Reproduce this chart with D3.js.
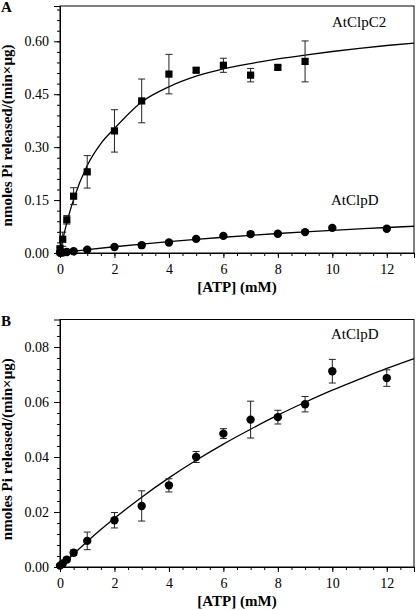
<!DOCTYPE html>
<html><head><meta charset="utf-8">
<script src="https://cdn.jsdelivr.net/npm/d3@7"></script>
<style>body{margin:0;background:#fff}svg{display:block}</style>
</head><body>
<svg id="c" width="416" height="610"></svg>
<script>
// Data
const c2X   = [0, 0.1, 0.25, 0.5, 1, 2, 3, 4, 5, 6, 7, 8, 9];
const c2Y   = [0.012, 0.039, 0.094, 0.161, 0.230, 0.346, 0.431, 0.507, 0.518, 0.532, 0.504, 0.526, 0.543];
const c2Err = [0.005, 0.02, 0.012, 0.024, 0.046, 0.06, 0.062, 0.056, 0.006, 0.02, 0.019, 0.006, 0.058];

const dX   = [0, 0.1, 0.25, 0.5, 1, 2, 3, 4, 5, 6, 7, 8, 9, 10, 12];
const dY   = [0.0005, 0.0013, 0.0027, 0.0052, 0.0095, 0.0170, 0.0222, 0.0297, 0.0400, 0.0485, 0.0536, 0.0545, 0.0592, 0.0712, 0.0687];
const dErr = [0.0004, 0.0006, 0.0008, 0.001, 0.0032, 0.0028, 0.0055, 0.0024, 0.002, 0.0018, 0.0067, 0.0025, 0.0028, 0.0043, 0.003];

// fitted curves (sampled from figure)
const fitC2X = [0, 0.1, 0.25, 0.5, 1, 1.5, 2, 3, 4, 5, 6, 7, 8, 9, 10, 11, 12, 13];
const fitC2Y = [0, 0.037, 0.086, 0.152, 0.248, 0.31, 0.353, 0.428, 0.471, 0.501, 0.522, 0.537, 0.550, 0.561, 0.571, 0.580, 0.588, 0.595];
const fitDX  = [0, 1, 2, 3, 4, 5, 6, 7, 8, 9, 10, 11, 12, 13];
const fitDY  = [0, 0.0093, 0.0177, 0.0254, 0.0324, 0.0388, 0.0447, 0.0501, 0.0552, 0.0599, 0.0643, 0.0683, 0.0722, 0.0758];

const xMajor = [0, 2, 4, 6, 8, 10, 12];
const yMajorA = [0, 0.15, 0.30, 0.45, 0.60];
const yMajorB = [0, 0.02, 0.04, 0.06, 0.08];

const FONT = '"Liberation Serif","Times New Roman",serif';
const svg = d3.select("#c");

function panel(opt) {
  const {top, bottom, yMax, yMajor, yMinorStep, letter, letterY} = opt;
  const left = 60, right = 414;
  const x = d3.scaleLinear().domain([0, 13]).range([left, right]);
  const y = d3.scaleLinear().domain([0, yMax]).range([bottom, top]);
  const g = svg.append("g");

  g.append("rect").attr("x", left).attr("y", top).attr("width", right - left).attr("height", bottom - top)
    .attr("fill", "none").attr("stroke", "#000").attr("stroke-width", 1);

  const xMinor = d3.range(0, 13.001, 0.5);
  g.append("g").attr("transform", `translate(0,${bottom})`)
    .call(d3.axisBottom(x).tickValues(xMinor).tickSize(3).tickFormat(""))
    .call(a => a.select(".domain").remove());
  g.append("g").attr("transform", `translate(0,${bottom})`)
    .call(d3.axisBottom(x).tickValues(xMajor).tickSize(5).tickPadding(6).tickFormat(d3.format("d")))
    .call(a => a.select(".domain").attr("stroke", "#000"))
    .call(a => a.selectAll("text").style("font-family", FONT).attr("font-size", 14).attr("fill", "#000"));

  const yMinor = d3.range(0, yMax + 1e-9, yMinorStep);
  g.append("g").attr("transform", `translate(${left},0)`)
    .call(d3.axisLeft(y).tickValues(yMinor).tickSize(3).tickFormat(""))
    .call(a => a.select(".domain").remove());
  g.append("g").attr("transform", `translate(${left},0)`)
    .call(d3.axisLeft(y).tickValues(yMajor).tickSize(6).tickPadding(5).tickFormat(d3.format(".2f")))
    .call(a => a.select(".domain").attr("stroke", "#000"))
    .call(a => a.selectAll("text").style("font-family", FONT).attr("font-size", 14).attr("fill", "#000"));

  g.append("text").attr("x", 237).attr("y", bottom + 39).attr("text-anchor", "middle")
    .style("font-family", FONT).attr("font-weight", "bold").attr("font-size", 15).text("[ATP] (mM)");
  g.append("text").attr("transform", `translate(12,${(top + bottom) / 2 + 6}) rotate(-90)`).attr("text-anchor", "middle")
    .style("font-family", FONT).attr("font-weight", "bold").attr("font-size", 15).text("nmoles Pi released/(min×μg)");
  g.append("text").attr("x", 1).attr("y", letterY)
    .style("font-family", FONT).attr("font-weight", "bold").attr("font-size", 15).text(letter);

  return {g, x, y};
}

function drawSeries(p, xs, ys, es, shape, fx, fy) {
  const {g, x, y} = p;
  const line = d3.line().x(d => x(d[0])).y(d => y(d[1])).curve(d3.curveMonotoneX);
  g.append("path").datum(fx.map((v, i) => [v, fy[i]]))
    .attr("d", line).attr("fill", "none").attr("stroke", "#000").attr("stroke-width", 1.3);
  const data = xs.map((v, i) => ({x: v, y: ys[i], e: es[i]}));
  const eb = g.append("g").attr("stroke", "#222").attr("stroke-width", 1);
  data.forEach(d => {
    const cx = x(d.x), y1 = y(d.y + d.e), y2 = y(Math.max(0, d.y - d.e));
    eb.append("line").attr("x1", cx).attr("x2", cx).attr("y1", y1).attr("y2", y2);
    eb.append("line").attr("x1", cx - 3.5).attr("x2", cx + 3.5).attr("y1", y1).attr("y2", y1);
    eb.append("line").attr("x1", cx - 3.5).attr("x2", cx + 3.5).attr("y1", y2).attr("y2", y2);
  });
  if (shape === "square") {
    g.selectAll(null).data(data).join("rect")
      .attr("x", d => x(d.x) - 3.6).attr("y", d => y(d.y) - 3.6)
      .attr("width", 7.2).attr("height", 7.2).attr("fill", "#000");
  } else {
    g.selectAll(null).data(data).join("circle")
      .attr("cx", d => x(d.x)).attr("cy", d => y(d.y)).attr("r", 4.2).attr("fill", "#000");
  }
}

const pA = panel({top: 6, bottom: 253, yMax: 0.70, yMajor: yMajorA, yMinorStep: 0.03, letter: "A", letterY: 12});
drawSeries(pA, c2X, c2Y, c2Err, "square", fitC2X, fitC2Y);
drawSeries(pA, dX, dY, dErr, "circle", fitDX, fitDY);
pA.g.append("text").attr("x", 332).attr("y", 27).style("font-family", FONT).attr("font-size", 15).text("AtClpC2");
pA.g.append("text").attr("x", 331).attr("y", 205).style("font-family", FONT).attr("font-size", 15).text("AtClpD");

const pB = panel({top: 319.5, bottom: 567, yMax: 0.09, yMajor: yMajorB, yMinorStep: 0.004, letter: "B", letterY: 326});
drawSeries(pB, dX, dY, dErr, "circle", fitDX, fitDY);
pB.g.append("text").attr("x", 331).attr("y", 339).style("font-family", FONT).attr("font-size", 15).text("AtClpD");
</script>
</body></html>
